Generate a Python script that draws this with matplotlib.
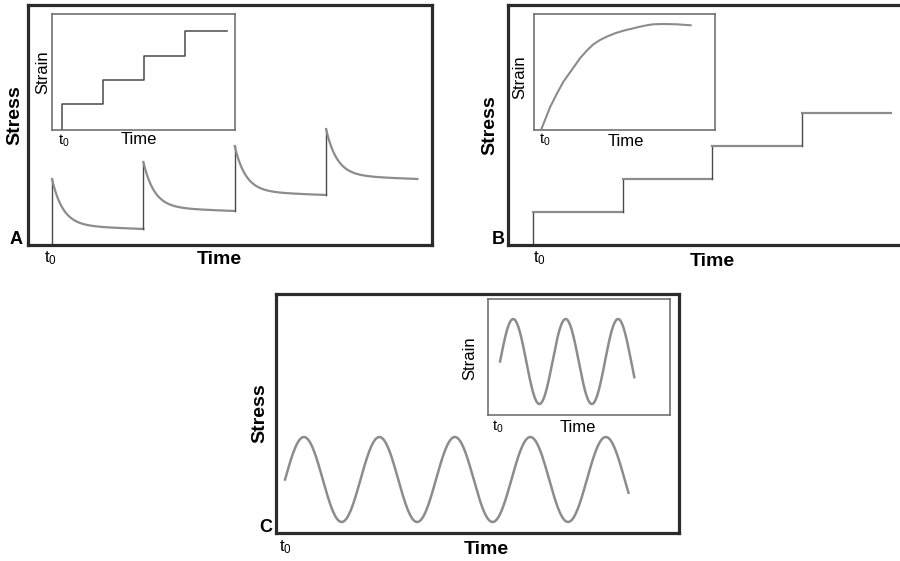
import numpy as np
import matplotlib
matplotlib.use('Agg')
import matplotlib.pyplot as plt

plt.rcParams['font.family'] = ['Liberation Sans', 'DejaVu Sans']
plt.rcParams['mathtext.fontset'] = 'custom'
plt.rcParams['mathtext.rm'] = 'Liberation Sans'
plt.rcParams['mathtext.it'] = 'Liberation Sans'

W, H = 900, 561

# Panel A: stress relaxation after step strains
a_step_times = [0, 1, 2, 3]
a_end_time = 4.0
a_peaks = [6.6, 8.3, 9.9, 11.6]
a_plateaus = [1.6, 3.4, 5.0, 6.6]
a_tau = 0.12
a_inset_levels = [2.6, 5.0, 7.4, 9.9]
a_inset_end = 4.02

# Panel B: stepped stress, creep strain in the inset
b_step_times = [0, 1, 2, 3]
b_end_time = 4.0
b_levels = [3.3, 6.6, 9.9, 13.2]
b_inset_t = [0, 0.33, 0.83, 1.5, 2.17, 3.0, 3.83, 4.5, 5.17, 5.83, 6.5, 7.33,
             8.17, 9.0, 9.83, 10.5, 11.17, 12.17, 13.5, 14.9]
b_inset_strain = [0.12, 0.95, 2.22, 3.55, 4.78, 5.95, 7.12, 7.88, 8.52, 8.95,
                  9.28, 9.62, 9.88, 10.08, 10.28, 10.42, 10.52, 10.55, 10.52, 10.42]

# Panel C: oscillatory stress and strain
c_mean, c_amp, c_cycles = 5.35, 4.25, 4.55
c_inset_mean, c_inset_amp, c_inset_cycles = 5.35, 4.25, 2.56

FRAME = '#2b2b2b'
INSET = '#666666'
CURVE = '#8c8c8c'
EDGE = '#4a4a4a'


def px_axes(fig, x0, y0, x1, y1):
    return fig.add_axes([x0 / W, 1 - y1 / H, (x1 - x0) / W, (y1 - y0) / H])


def style(ax, color, lw):
    ax.set_xticks([])
    ax.set_yticks([])
    for s in ax.spines.values():
        s.set_color(color)
        s.set_linewidth(lw)


def label(fig, x, y, s, **kw):
    fig.text(x / W, 1 - y / H, s, ha='center', va='center', **kw)


def relax(t, peak, plateau):
    # quick exponential drop with a slow tail
    left = 0.93 * np.exp(-t / a_tau) + 0.07 * (1 - t)
    return plateau + (peak - plateau) * left


fig = plt.figure(figsize=(W / 100, H / 100), dpi=100)

# ---- A ----
ax = px_axes(fig, 28, 5, 432, 245)
style(ax, FRAME, 2.3)
ax.set_xlim(-0.263, 4.16)
ax.set_ylim(0, 24)
ends = a_step_times[1:] + [a_end_time]
prev = 0
for t0, t1, pk, pl in zip(a_step_times, ends, a_peaks, a_plateaus):
    ax.plot([t0, t0], [prev, pk], color=EDGE, lw=1.0)
    t = np.linspace(0, t1 - t0, 200)
    ax.plot(t0 + t, relax(t, pk, pl), color=CURVE, lw=1.6)
    prev = pl

ax = px_axes(fig, 52, 14, 235, 130)
style(ax, INSET, 1.1)
ax.set_xlim(-0.244, 4.22)
ax.set_ylim(0, 11.6)
ax.step(a_step_times + [a_inset_end], [0] + a_inset_levels,
        where='pre', color=EDGE, lw=1.1)

label(fig, 15, 115, 'Stress', rotation=90, fontsize=14, fontweight='bold')
label(fig, 219, 260, 'Time', fontsize=14, fontweight='bold')
label(fig, 16, 240, 'A', fontsize=13, fontweight='bold')
label(fig, 50, 258, r'$\mathregular{t_0}$', fontsize=12)
label(fig, 43, 72, 'Strain', rotation=90, fontsize=12)
label(fig, 139, 140, 'Time', fontsize=12)
label(fig, 64, 141, r'$\mathregular{t_0}$', fontsize=10.5)

# ---- B ----
ax = px_axes(fig, 508, 5, 900, 245)
style(ax, FRAME, 2.3)
ax.spines['right'].set_visible(False)
ax.set_xlim(-0.28, 4.10)
ax.set_ylim(0, 24)
ends = b_step_times[1:] + [b_end_time]
prev = 0
for t0, t1, lv in zip(b_step_times, ends, b_levels):
    ax.plot([t0, t0], [prev, lv], color=EDGE, lw=1.0)
    ax.plot([t0, t1], [lv, lv], color=CURVE, lw=1.6)
    prev = lv

ax = px_axes(fig, 534, 14, 715, 129.5)
style(ax, INSET, 1.1)
ax.set_xlim(-0.77, 17.33)
ax.set_ylim(0, 11.55)
ax.plot(b_inset_t, b_inset_strain, color=CURVE, lw=1.5, solid_joinstyle='round')

label(fig, 490, 125, 'Stress', rotation=90, fontsize=14, fontweight='bold')
label(fig, 712, 261, 'Time', fontsize=14, fontweight='bold')
label(fig, 498, 240, 'B', fontsize=13, fontweight='bold')
label(fig, 539, 258, r'$\mathregular{t_0}$', fontsize=12)
label(fig, 520, 77, 'Strain', rotation=90, fontsize=12)
label(fig, 626, 141, 'Time', fontsize=12)
label(fig, 545, 140, r'$\mathregular{t_0}$', fontsize=10.5)

# ---- C ----
ax = px_axes(fig, 276, 294, 679, 533)
style(ax, FRAME, 2.3)
ax.set_xlim(-0.12, 5.22)
ax.set_ylim(0, 23.9)
t = np.linspace(0, c_cycles, 600)
ax.plot(t, c_mean + c_amp * np.sin(2 * np.pi * t), color=CURVE, lw=1.8)

ax = px_axes(fig, 488, 299, 670, 415)
style(ax, INSET, 1.1)
ax.set_xlim(-0.23, 3.24)
ax.set_ylim(0, 11.6)
t = np.linspace(0, c_inset_cycles, 400)
ax.plot(t, c_inset_mean + c_inset_amp * np.sin(2 * np.pi * t), color=CURVE, lw=1.8)

label(fig, 260, 413, 'Stress', rotation=90, fontsize=14, fontweight='bold')
label(fig, 486, 549, 'Time', fontsize=14, fontweight='bold')
label(fig, 266, 527, 'C', fontsize=13, fontweight='bold')
label(fig, 285, 547, r'$\mathregular{t_0}$', fontsize=12)
label(fig, 470, 358, 'Strain', rotation=90, fontsize=12)
label(fig, 578, 427, 'Time', fontsize=12)
label(fig, 498, 427, r'$\mathregular{t_0}$', fontsize=10.5)

fig.savefig('out.png', dpi=100)
